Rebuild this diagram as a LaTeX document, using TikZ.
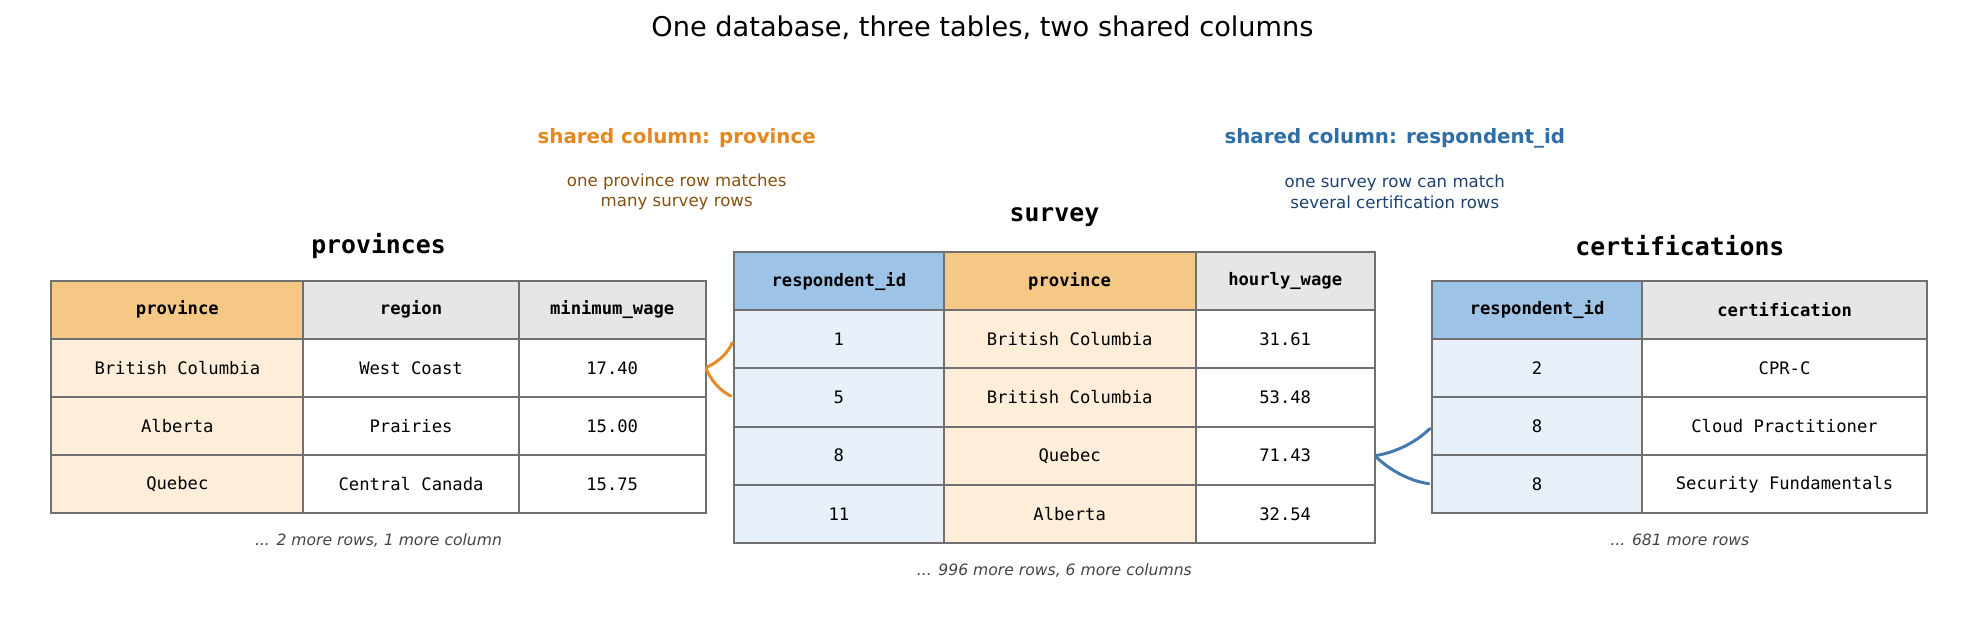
\documentclass[tikz,border=0pt]{standalone}
\usepackage{fontspec}
\setmainfont{DejaVu Sans}
\setmonofont{DejaVu Sans Mono}
\usepackage{tikz}
\usetikzlibrary{positioning}

\definecolor{gridline}{HTML}{707070}
\definecolor{provhead}{HTML}{F5C886}
\definecolor{provcell}{HTML}{FDEDD9}
\definecolor{idhead}{HTML}{9DC3E6}
\definecolor{idcell}{HTML}{E8F0FA}
\definecolor{plainhead}{HTML}{E6E6E6}
\definecolor{provtext}{HTML}{E6861E}
\definecolor{provnote}{HTML}{86500E}
\definecolor{idtext}{HTML}{2E6DA8}
\definecolor{idnote}{HTML}{1D4170}
\definecolor{provlink}{HTML}{E8892B}
\definecolor{idlink}{HTML}{4479B0}
\definecolor{moretext}{HTML}{444444}

\begin{document}
\begin{tikzpicture}[x=0.5pt,y=-0.5pt,
    cell/.style={draw=gridline,line width=1pt,outer sep=0pt,inner sep=0pt,
      minimum height=29.1pt,font=\fontsize{8.6}{10}\selectfont\ttfamily},
    head/.style={cell,font=\fontsize{8.6}{10}\selectfont\ttfamily\bfseries},
    tabname/.style={font=\fontsize{12.4}{14}\selectfont\ttfamily\bfseries},
    more/.style={text=moretext,font=\fontsize{7.8}{9}\selectfont\itshape},
    shared/.style={font=\fontsize{9.9}{12}\selectfont\bfseries},
    note/.style={align=center,font=\fontsize{8.3}{10.05}\selectfont},
    link/.style={line width=1.5pt,line cap=round,shorten <=0.6pt,shorten >=1.8pt}]
    \fill[white] (0,0) rectangle (1965,629);
    \useasboundingbox (0,0) rectangle (1965,629);

    \node[font=\fontsize{13.6}{16}\selectfont] (title) at (982.5,27.6)
        {One database, three tables, two shared columns};

    % shared columns
    \node[shared,text=provtext] (provshared) at (676.7,137.9) {shared column: province};
    \node[note,text=provnote] (provsharednote) at (676.7,191.8)
        {one province row matches\\many survey rows};
    \node[shared,text=idtext] (idshared) at (1394.8,137.9) {shared column: respondent\_id};
    \node[note,text=idnote] (idsharednote) at (1394.8,191.8)
        {one survey row can match\\several certification rows};

    % provinces
    \node[tabname] (provname) at (378.5,245.6) {provinces};
    \node[head,fill=provhead,minimum width=125.95pt,anchor=north west] (p-0-1) at (51.4,280.5) {province};
    \node[head,fill=plainhead,minimum width=107.75pt,right=0pt of p-0-1] (p-0-2) {region};
    \node[head,fill=plainhead,minimum width=93.4pt,right=0pt of p-0-2] (p-0-3) {minimum\_wage};
    \foreach \a/\b/\c [count=\i] in {British Columbia/West Coast/17.40,
        Alberta/Prairies/15.00,Quebec/Central Canada/15.75}{
        \pgfmathtruncatemacro\j{\i-1}
        \node[cell,fill=provcell,minimum width=125.95pt,below=0pt of p-\j-1] (p-\i-1) {\a};
        \node[cell,fill=white,minimum width=107.75pt,below=0pt of p-\j-2] (p-\i-2) {\b};
        \node[cell,fill=white,minimum width=93.4pt,below=0pt of p-\j-3] (p-\i-3) {\c};
    }
    \node[more] (provmore) at (378.5,540.1) {... 2 more rows, 1 more column};

    % survey
    \node[tabname] (survname) at (1054.4,216.8) {survey};
    \node[head,fill=idhead,minimum width=104.85pt,anchor=north west] (s-0-1) at (734,252) {respondent\_id};
    \node[head,fill=provhead,minimum width=125.95pt,right=0pt of s-0-1] (s-0-2) {province};
    \node[head,fill=plainhead,minimum width=89.6pt,right=0pt of s-0-2] (s-0-3) {hourly\_wage};
    \foreach \a/\b/\c [count=\i] in {1/British Columbia/31.61,5/British Columbia/53.48,
        8/Quebec/71.43,11/Alberta/32.54}{
        \pgfmathtruncatemacro\j{\i-1}
        \node[cell,fill=idcell,minimum width=104.85pt,below=0pt of s-\j-1] (s-\i-1) {\a};
        \node[cell,fill=provcell,minimum width=125.95pt,below=0pt of s-\j-2] (s-\i-2) {\b};
        \node[cell,fill=white,minimum width=89.6pt,below=0pt of s-\j-3] (s-\i-3) {\c};
    }
    \node[more] (survmore) at (1054.4,570.2) {... 996 more rows, 6 more columns};

    % certifications
    \node[tabname] (certname) at (1679.9,245.6) {certifications};
    \node[head,fill=idhead,minimum width=104.65pt,anchor=north west] (c-0-1) at (1432.4,280.5) {respondent\_id};
    \node[head,fill=plainhead,minimum width=142.85pt,right=0pt of c-0-1] (c-0-2) {certification};
    \foreach \a/\b [count=\i] in {2/CPR-C,8/Cloud Practitioner,8/Security Fundamentals}{
        \pgfmathtruncatemacro\j{\i-1}
        \node[cell,fill=idcell,minimum width=104.65pt,below=0pt of c-\j-1] (c-\i-1) {\a};
        \node[cell,fill=white,minimum width=142.85pt,below=0pt of c-\j-2] (c-\i-2) {\b};
    }
    \node[more] (certmore) at (1679.9,540.1) {... 681 more rows};

    % links between shared columns
    \draw[link,provlink] (p-1-3.east) .. controls +(13.6,-6.3) and +(-6.3,13.6) .. (s-1-1.west);
    \draw[link,provlink] (p-1-3.east) .. controls +(6.1,13.7) and +(-13.5,-6.6) .. (s-2-1.west);
    \draw[link,idlink] (s-3-3.east) .. controls +(22,-3.5) and +(-15.5,15.5) .. (c-2-1.west);
    \draw[link,idlink] (s-3-3.east) .. controls +(16,15.5) and +(-21.8,-3.1) .. (c-3-1.west);
\end{tikzpicture}
\end{document}
